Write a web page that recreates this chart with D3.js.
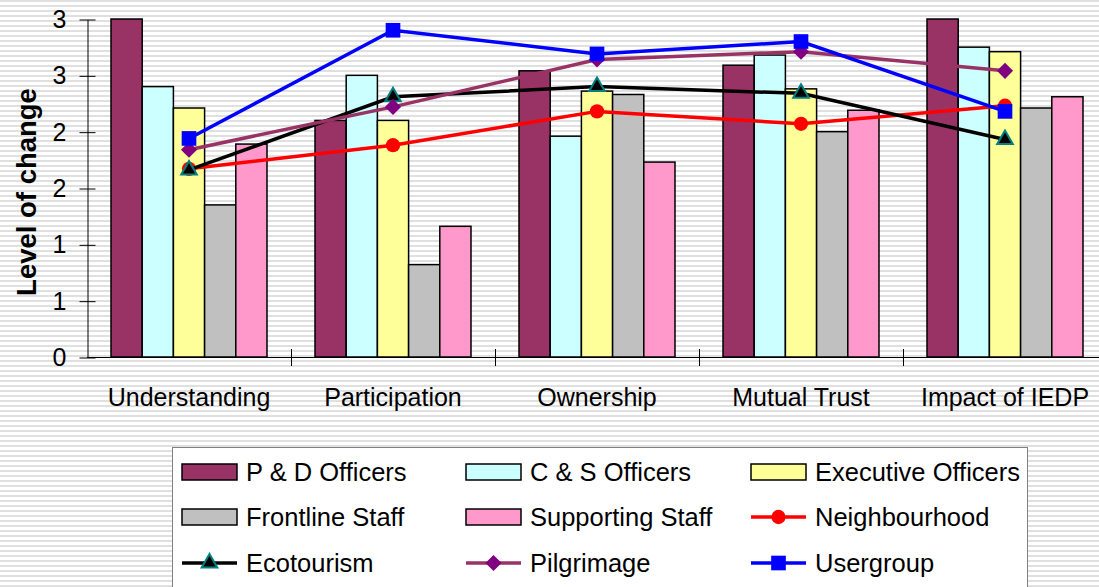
<!DOCTYPE html>
<html>
<head>
<meta charset="utf-8">
<script src="https://cdn.jsdelivr.net/npm/d3@7"></script>
<style>
  body { margin: 0; background: #fff; }
  svg { display: block; font-family: "Liberation Sans", Arial, sans-serif; }
</style>
</head>
<body>
<script>
// chart data
var categories = ["Understanding", "Participation", "Ownership", "Mutual Trust", "Impact of IEDP"];

var barNames = ["P & D Officers", "C & S Officers", "Executive Officers", "Frontline Staff", "Supporting Staff"];
var pdOfficers = [3.00, 2.10, 2.54, 2.59, 3.00];
var csOfficers = [2.40, 2.50, 1.96, 2.68, 2.75];
var execOfficers = [2.21, 2.10, 2.36, 2.38, 2.71];
var frontlineStaff = [1.35, 0.82, 2.33, 2.00, 2.21];
var supportingStaff = [1.89, 1.16, 1.73, 2.19, 2.31];

var lineNames = ["Neighbourhood", "Ecotourism", "Pilgrimage", "Usergroup"];
var neighbourhood = [1.67, 1.88, 2.18, 2.07, 2.23];
var ecotourism = [1.66, 2.31, 2.40, 2.34, 1.93];
var pilgrimage = [1.84, 2.22, 2.64, 2.71, 2.54];
var usergroup = [1.94, 2.90, 2.69, 2.80, 2.18];

var yTicks = [0, 0.5, 1, 1.5, 2, 2.5, 3];
var yTickLabels = ["0", "1", "1", "2", "2", "3", "3"];

var width = 1099, height = 587;

var barSeries = [pdOfficers, csOfficers, execOfficers, frontlineStaff, supportingStaff];
var barColors = ["#993366", "#ccffff", "#ffff99", "#c0c0c0", "#ff99cc"];

var lineSeries = [neighbourhood, ecotourism, pilgrimage, usergroup];
var lineStyles = [
    { stroke: "#ff0000", fill: "#ff0000", edge: "#ff0000", symbol: d3.symbolCircle, size: 160, rotate: 0 },
    { stroke: "#000000", fill: "#000000", edge: "#008080", symbol: d3.symbolTriangle, size: 105, rotate: 0 },
    { stroke: "#993366", fill: "#800080", edge: "#800080", symbol: d3.symbolSquare, size: 130, rotate: 45 },
    { stroke: "#0000ff", fill: "#0000ff", edge: "#0000ff", symbol: d3.symbolSquare, size: 215, rotate: 0 }
];

var svg = d3.select("body").append("svg")
    .attr("width", width)
    .attr("height", height);

// striped slide background
var pat = svg.append("defs").append("pattern")
    .attr("id", "stripes")
    .attr("patternUnits", "userSpaceOnUse")
    .attr("width", 10).attr("height", 5);
pat.append("rect").attr("width", 10).attr("height", 5).attr("fill", "#ffffff");
pat.append("rect").attr("y", 0).attr("width", 10).attr("height", 2).attr("fill", "#e0e0e0");

svg.append("rect")
    .attr("width", width).attr("height", height)
    .attr("fill", "url(#stripes)");

// scales
var plotLeft = 87, plotRight = 1107, plotTop = 19, plotBottom = 357;

var x0 = d3.scaleBand()
    .domain(categories)
    .range([plotLeft, plotRight])
    .padding(0);

var x1 = d3.scaleBand()
    .domain(d3.range(barSeries.length))
    .range([24, x0.bandwidth() - 24])
    .padding(0);

var y = d3.scaleLinear()
    .domain([0, 3])
    .range([plotBottom, plotTop]);

// bars
var groups = svg.append("g").selectAll("g")
    .data(categories)
    .enter().append("g")
    .attr("transform", function (d) { return "translate(" + x0(d) + ",0)"; });

groups.selectAll("rect")
    .data(function (d, i) {
        return barSeries.map(function (s, k) { return { k: k, v: s[i] }; });
    })
    .enter().append("rect")
    .attr("x", function (d) { return x1(d.k); })
    .attr("width", x1.bandwidth())
    .attr("y", function (d) { return y(d.v); })
    .attr("height", function (d) { return y(0) - y(d.v); })
    .attr("fill", function (d) { return barColors[d.k]; })
    .attr("stroke", "#000")
    .attr("stroke-width", 1.5);

// y axis
var yAxis = svg.append("g")
    .attr("transform", "translate(" + (plotLeft + 0.5) + ",0.5)")
    .call(d3.axisLeft(y)
        .tickValues(yTicks)
        .tickFormat(function (d, i) { return yTickLabels[i]; })
        .tickSize(8)
        .tickSizeOuter(0)
        .tickPadding(13));
yAxis.select(".domain").attr("stroke", "#000").attr("stroke-width", 1);
yAxis.selectAll(".tick line").attr("x1", 8).attr("stroke", "#000");
yAxis.selectAll(".tick text")
    .attr("font-size", 25)
    .attr("font-family", "'Liberation Sans', Arial, sans-serif")
    .attr("fill", "#000");

// x axis
svg.append("line")
    .attr("x1", plotLeft).attr("x2", width)
    .attr("y1", y(0) + 0.5).attr("y2", y(0) + 0.5)
    .attr("stroke", "#000");

svg.append("g").selectAll("line")
    .data(categories.slice(1))
    .enter().append("line")
    .attr("x1", function (d) { return Math.round(x0(d)) + 0.5; })
    .attr("x2", function (d) { return Math.round(x0(d)) + 0.5; })
    .attr("y1", y(0) - 8).attr("y2", y(0) + 9)
    .attr("stroke", "#000");

svg.append("g").selectAll("text")
    .data(categories)
    .enter().append("text")
    .attr("x", function (d) { return x0(d) + x0.bandwidth() / 2; })
    .attr("y", 406)
    .attr("text-anchor", "middle")
    .attr("font-size", 25)
    .text(function (d) { return d; });

svg.append("text")
    .attr("transform", "translate(26,192) rotate(-90)")
    .attr("text-anchor", "middle")
    .attr("dy", "0.35em")
    .attr("font-size", 27.5)
    .attr("font-weight", "bold")
    .text("Level of change");

// lines
var line = d3.line()
    .x(function (d, i) { return x0(categories[i]) + x0.bandwidth() / 2; })
    .y(function (d) { return y(d); });

lineSeries.forEach(function (s, k) {
    var st = lineStyles[k];
    svg.append("path")
        .datum(s)
        .attr("d", line)
        .attr("fill", "none")
        .attr("stroke", st.stroke)
        .attr("stroke-width", 3.5);
    svg.append("g").selectAll("path")
        .data(s)
        .enter().append("path")
        .attr("transform", function (d, i) {
            return "translate(" + (x0(categories[i]) + x0.bandwidth() / 2) + "," + y(d) + ") rotate(" + st.rotate + ")";
        })
        .attr("d", d3.symbol().type(st.symbol).size(st.size))
        .attr("fill", st.fill)
        .attr("stroke", st.edge)
        .attr("stroke-width", k === 1 ? 2 : 0);
});

// legend
var legend = svg.append("g");
legend.append("rect")
    .attr("x", 172.5).attr("y", 447.5)
    .attr("width", 855).attr("height", 160)
    .attr("fill", "#fff")
    .attr("stroke", "#808080");

var items = barNames.map(function (n, k) { return { name: n, type: "bar", k: k }; })
    .concat(lineNames.map(function (n, k) { return { name: n, type: "line", k: k }; }));

var colX = [182, 466, 751], rowY = [472, 517, 563];

var li = legend.selectAll("g.item")
    .data(items)
    .enter().append("g")
    .attr("class", "item")
    .attr("transform", function (d, i) {
        return "translate(" + colX[i % 3] + "," + rowY[Math.floor(i / 3)] + ")";
    });

li.filter(function (d) { return d.type === "bar"; })
    .append("rect")
    .attr("x", 0).attr("y", -8)
    .attr("width", 55).attr("height", 16)
    .attr("fill", function (d) { return barColors[d.k]; })
    .attr("stroke", "#000")
    .attr("stroke-width", 1.5);

var ll = li.filter(function (d) { return d.type === "line"; });
ll.append("line")
    .attr("x1", 0).attr("x2", 55)
    .attr("stroke", function (d) { return lineStyles[d.k].stroke; })
    .attr("stroke-width", 3.5);
ll.append("path")
    .attr("transform", function (d) { return "translate(27.5,0) rotate(" + lineStyles[d.k].rotate + ")"; })
    .attr("d", function (d) { return d3.symbol().type(lineStyles[d.k].symbol).size(lineStyles[d.k].size)(); })
    .attr("fill", function (d) { return lineStyles[d.k].fill; })
    .attr("stroke", function (d) { return lineStyles[d.k].edge; })
    .attr("stroke-width", function (d) { return d.k === 1 ? 2 : 0; });

li.append("text")
    .attr("x", 64)
    .attr("dy", "0.35em")
    .attr("font-size", 25.5)
    .text(function (d) { return d.name; });
</script>
</body>
</html>
